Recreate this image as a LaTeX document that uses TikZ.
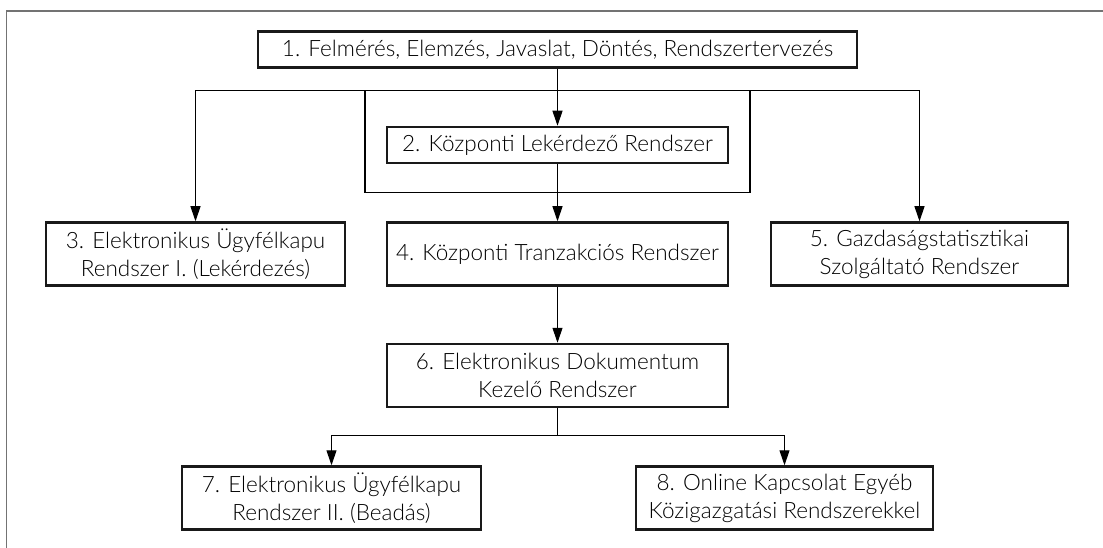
\documentclass[tikz,border=0pt]{standalone}
\usepackage{fontspec}
\setmainfont{Lato}[UprightFont=* Light]
\usetikzlibrary{arrows.meta}
\tikzset{
  boxnode/.style={draw=black!90, line width=2.5pt, inner sep=0pt, align=center,
    font=\fontsize{22.5}{28}\selectfont},
  link/.style={line width=1.1pt, draw=black},
  conn/.style={link, -{Triangle[length=15pt,width=10pt]}},
  frameline/.style={draw=black!55, line width=1.8pt}
}
\begin{document}
\begin{tikzpicture}[x=1pt,y=-1pt]
\useasboundingbox (0,0) rectangle (1103,548);
\clip (0,0) rectangle (1103,548);
\fill[white] (0,0) rectangle (1103,548);
\coordinate (frA) at (6.4,600);
\coordinate (frB) at (1200,11);
\draw[frameline] (frA) |- (frB);

\node[boxnode, minimum width=599pt, minimum height=36pt] (b1) at (557.5,49.5)
  {1. Felmérés, Elemzés, Javaslat, Döntés, Rendszertervezés};
\node[boxnode, minimum width=341pt, minimum height=36pt] (b2) at (557.5,145)
  {2. Központi Lekérdező Rendszer};
\node[boxnode, minimum width=299pt, minimum height=63pt] (b3) at (195.5,254)
  {3. Elektronikus Ügyfélkapu\\Rendszer I. (Lekérdezés)};
\node[boxnode, minimum width=341pt, minimum height=63pt] (b4) at (557.5,254)
  {4. Központi Tranzakciós Rendszer};
\node[boxnode, minimum width=297pt, minimum height=63pt] (b5) at (919.5,254)
  {5. Gazdaságstatisztikai\\Szolgáltató Rendszer};
\node[boxnode, minimum width=341pt, minimum height=63pt] (b6) at (557.5,375.5)
  {6. Elektronikus Dokumentum\\Kezelő Rendszer};
\node[boxnode, minimum width=299pt, minimum height=63pt] (b7) at (331.5,498)
  {7. Elektronikus Ügyfélkapu\\Rendszer II. (Beadás)};
\node[boxnode, minimum width=297pt, minimum height=63pt] (b8) at (784.5,498)
  {8. Online Kapcsolat Egyéb\\Közigazgatási Rendszerekkel};

\coordinate (hl) at (557.5,90.7);
\coordinate (brL) at (365,90.7);
\coordinate (brR) at (750,192.7);
\coordinate (jn) at (557.5,435.7);

\draw[link] (brL) rectangle (brR);
\draw[conn] (hl) -| (b3.north);
\draw[conn] (hl) -| (b5.north);
\draw[conn] (b1.south) -- (b2.north);
\draw[conn] (b2.south) -- (b4.north);
\draw[conn] (b4.south) -- (b6.north);
\draw[link] (b6.south) -- (jn);
\draw[conn] (jn) -| (b7.north);
\draw[conn] (jn) -| (b8.north);
\end{tikzpicture}
\end{document}
